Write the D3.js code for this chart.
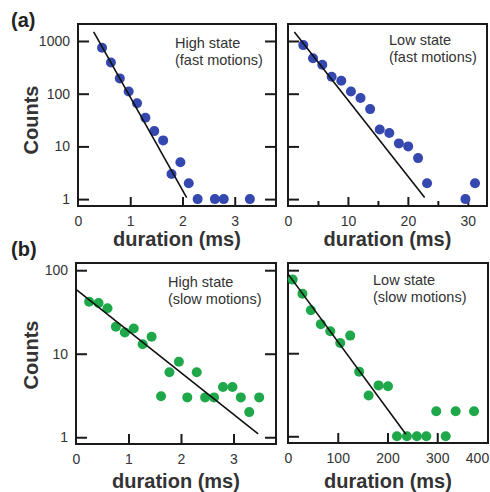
<!DOCTYPE html>
<html>
<head>
<meta charset="utf-8">
<script src="https://cdn.jsdelivr.net/npm/d3@7"></script>
<style>
  body { margin: 0; background: #fff; }
  svg { display: block; font-family: "Liberation Sans", Arial, sans-serif; }
</style>
</head>
<body>
<svg id="chart" width="490" height="492"></svg>
<script>
// Dwell-time histograms (counts vs duration)
const highFastT = [0.46, 0.63, 0.80, 0.97, 1.13, 1.29, 1.46, 1.63, 1.79, 1.96, 2.12, 2.29, 2.62, 2.79, 3.29];
const highFastN = [745, 390, 195, 110, 66, 35, 19.5, 13, 3, 5, 2, 1, 1, 1, 1];
const highFastFit = [[0.30, 1490], [2.08, 1.07]];

const lowFastT = [2.55, 4.17, 5.72, 7.28, 8.89, 10.5, 12.1, 13.7, 15.3, 16.9, 18.5, 20.05, 21.7, 23.2, 29.6, 31.2];
const lowFastN = [835, 470, 355, 210, 176, 110, 83, 51, 21, 18, 11.4, 10, 6, 2, 1, 2];
const lowFastFit = [[1.06, 1480], [22.8, 1.07]];

const highSlowT = [0.25, 0.43, 0.60, 0.76, 0.93, 1.10, 1.27, 1.44, 1.62, 1.78, 1.96, 2.12, 2.30, 2.46, 2.63, 2.80, 2.98, 3.14, 3.30, 3.49];
const highSlowN = [42, 40.5, 35, 21, 18, 20, 13, 16, 3.1, 6, 8, 3, 6, 3, 3, 4, 4, 3, 2, 3];
const highSlowFit = [[0, 59], [3.47, 1.1]];

const lowSlowT = [9.4, 29, 46, 66, 85, 105, 125, 143, 162, 182, 201, 219, 239, 259, 278, 298, 317, 337, 374];
const lowSlowN = [77, 52, 33, 22.4, 18.4, 13.3, 16.3, 6, 3.1, 4.1, 4, 1, 1, 1, 1, 2, 1, 2, 2];
const lowSlowFit = [[0.7, 89], [237, 1.06]];

const fastYTicks = [1, 10, 100, 1000];
const slowYTicks = [1, 10, 100];

const blue = '#3548b0';
const green = '#1fa84a';

const svg = d3.select('#chart');

const panels = [
  { x0: 78, x1: 276, y0: 24, y1: 206, xMax: 3.79, yDom: [0.74, 2100], t: highFastT, n: highFastN, fit: highFastFit,
    color: blue, xTicks: [0, 1, 2, 3], xMinor: [], xTickLen: 9, yTicks: fastYTicks, yLabels: true, rightTicks: true,
    note: ['High state', '(fast motions)'], noteX: 175, noteY: 48, titleGap: 40 },
  { x0: 288, x1: 487, y0: 24, y1: 206, xMax: 33.2, yDom: [0.74, 2100], t: lowFastT, n: lowFastN, fit: lowFastFit,
    color: blue, xTicks: [0, 10, 20, 30], xMinor: [5, 15, 25], xTickLen: 9, yTicks: fastYTicks, yLabels: false, rightTicks: false,
    note: ['Low state', '(fast motions)'], noteX: 389, noteY: 45, titleGap: 40 },
  { x0: 76, x1: 276, y0: 263, y1: 444, xMax: 3.81, yDom: [0.83, 122], t: highSlowT, n: highSlowN, fit: highSlowFit,
    color: green, xTicks: [0, 1, 2, 3], xMinor: [], xTickLen: 10, yTicks: slowYTicks, yLabels: true, rightTicks: true,
    note: ['High state', '(slow motions)'], noteX: 168, noteY: 287, titleGap: 44 },
  { x0: 288, x1: 488, y0: 263, y1: 443, xMax: 402, yDom: [0.83, 122], t: lowSlowT, n: lowSlowN, fit: lowSlowFit,
    color: green, xTicks: [0, 100, 200, 300, 400], xMinor: [], xTickLen: 10, yTicks: slowYTicks, yLabels: false, rightTicks: false,
    note: ['Low state', '(slow motions)'], noteX: 373, noteY: 285, titleGap: 45 }
];

panels.forEach(p => {
  const x = d3.scaleLinear().domain([0, p.xMax]).range([p.x0, p.x1]);
  const y = d3.scaleLog().domain(p.yDom).range([p.y1, p.y0]);

  // x axis with ticks pointing inward (no tick marks on the frame corners)
  const xg = svg.append('g').attr('transform', `translate(0,${p.y1})`)
    .call(d3.axisBottom(x).tickValues(p.xTicks).tickSize(-p.xTickLen).tickPadding(10)
      .tickFormat(d3.format('d')));
  xg.select('.domain').remove();
  xg.selectAll('.tick line').filter(d => d === 0 || x(d) > p.x1 - 4).remove();
  // keep a label sitting on the right frame edge inside the page
  xg.selectAll('.tick text').filter(d => x(d) > p.x1 - 4).attr('dx', -10);
  if (p.xMinor.length) {
    const mg = svg.append('g').attr('transform', `translate(0,${p.y1})`)
      .call(d3.axisBottom(x).tickValues(p.xMinor).tickSize(-5).tickFormat(''));
    mg.select('.domain').remove();
  }

  const yg = svg.append('g').attr('transform', `translate(${p.x0},0)`)
    .call(d3.axisLeft(y).tickValues(p.yTicks).tickSize(-11).tickPadding(8)
      .tickFormat(p.yLabels ? d3.format('d') : ''));
  yg.select('.domain').remove();

  if (p.rightTicks) {
    const rg = svg.append('g').attr('transform', `translate(${p.x1},0)`)
      .call(d3.axisRight(y).tickValues(p.yTicks).tickSize(-11).tickFormat(''));
    rg.select('.domain').remove();
  }

  svg.selectAll('.tick line').attr('stroke', '#1a1a1a').attr('stroke-width', 2);
  svg.selectAll('.tick text').attr('font-size', 14).attr('fill', '#333')
    .attr('font-family', '"Liberation Sans", Arial, sans-serif');

  // frame
  svg.append('rect')
    .attr('x', p.x0).attr('y', p.y0)
    .attr('width', p.x1 - p.x0).attr('height', p.y1 - p.y0)
    .attr('fill', 'none').attr('stroke', '#1a1a1a').attr('stroke-width', 2);

  // dots
  svg.append('g').selectAll('circle')
    .data(d3.zip(p.t, p.n))
    .join('circle')
    .attr('cx', d => x(d[0]))
    .attr('cy', d => y(d[1]))
    .attr('r', 5)
    .attr('fill', p.color);

  // fitted exponential
  svg.append('path')
    .datum(p.fit)
    .attr('d', d3.line().x(d => x(d[0])).y(d => y(d[1])))
    .attr('fill', 'none').attr('stroke', '#111').attr('stroke-width', 1.6);

  // state note
  const note = svg.append('text').attr('x', p.noteX).attr('y', p.noteY)
    .attr('font-size', 14.5).attr('fill', '#333');
  note.selectAll('tspan').data(p.note).join('tspan')
    .attr('x', p.noteX).attr('dy', (d, i) => i ? 17 : 0).text(d => d);

  // x title
  svg.append('text')
    .attr('x', (p.x0 + p.x1) / 2).attr('y', p.y1 + p.titleGap)
    .attr('text-anchor', 'middle').attr('font-size', 20).attr('font-weight', 'bold')
    .attr('fill', '#333').text('duration (ms)');
});

// y titles and panel letters
[[120, '(a)', 27], [355, '(b)', 256]].forEach(([cy, letter, ly]) => {
  svg.append('text')
    .attr('transform', `translate(38,${cy}) rotate(-90)`)
    .attr('text-anchor', 'middle').attr('font-size', 20).attr('font-weight', 'bold')
    .attr('fill', '#333').text('Counts');
  svg.append('text')
    .attr('x', 11).attr('y', ly)
    .attr('font-size', 20).attr('font-weight', 'bold')
    .attr('fill', '#222').text(letter);
});
</script>
</body>
</html>
